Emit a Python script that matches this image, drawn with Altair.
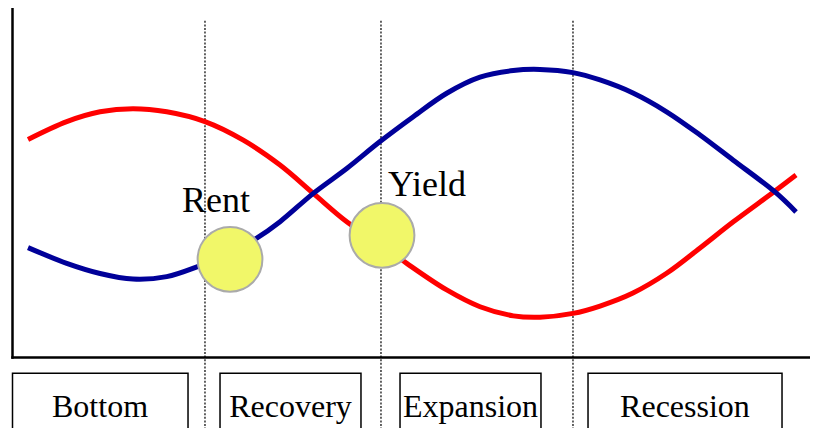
import altair as alt
import pandas as pd

# ---- data ----
# cycle phase (0-100) and relative level (0-100)
t_blue = [1.94, 6.78, 10.94, 15.06, 19.28, 23.06, 27.19, 30.53, 33.44, 37.6, 41.78, 45.94,
          50.1, 54.28, 58.44, 62.6, 65.94, 70.06, 73.44, 77.56, 81.81, 85.94, 90.06, 95.31, 97.94]
lvl_blue = [31.4, 26.9, 24.0, 22.4, 23.1, 25.9, 29.86, 34.1, 38.8, 46.9, 54.0, 61.7,
            68.8, 75.5, 80.1, 82.0, 82.3, 81.4, 79.29, 75.57, 70.14, 63.57, 56.43, 47.3, 41.6]

t_red = [1.94, 6.78, 10.94, 15.06, 19.28, 24.06, 28.85, 33.44, 37.6, 41.78, 45.94, 49.28,
         54.28, 58.44, 62.6, 65.94, 70.06, 73.44, 77.56, 81.81, 85.94, 90.06, 95.31, 97.94]
lvl_red = [62.3, 67.4, 70.2, 71.1, 70.2, 67.4, 62.1, 55.0, 46.9, 38.8, 32.43, 26.9,
           19.3, 14.5, 11.9, 11.5, 12.6, 14.71, 18.43, 24.14, 31.3, 38.71, 47.57, 52.14]

marker_names = ["Rent", "Yield"]
marker_t = [27.19, 46.19]
marker_lvl = [28.06, 34.9]
label_t = [21.19, 46.94]
label_lvl = [41.57, 46.14]

divider_t = [24.06, 46.06, 70.06]
divider_top = 96.2

stages = ["Bottom", "Recovery", "Expansion", "Recession"]
stage_t0 = [0.0, 25.94, 48.44, 71.94]
stage_t1 = [21.94, 43.56, 66.06, 96.19]
stage_center = [10.94, 34.75, 57.25, 84.06]
stage_top = -4.5
stage_label_lvl = -16.86

axis_x_end = 100.7

# ---- layout ----
W, H = 802, 420
xs = alt.Scale(domain=[0, 100], range=[4.5, 804.5])
ys = alt.Scale(domain=[0, 100], range=[349.5, -0.5])

blue_df = pd.DataFrame({"t": t_blue, "level": lvl_blue})
red_df = pd.DataFrame({"t": t_red, "level": lvl_red})
mk_df = pd.DataFrame({"name": marker_names, "t": marker_t, "level": marker_lvl,
                      "lt": label_t, "ll": label_lvl})
div_df = pd.DataFrame({"t": divider_t, "top": [divider_top] * len(divider_t)})
st_df = pd.DataFrame({"stage": stages, "t0": stage_t0, "t1": stage_t1, "tc": stage_center,
                      "top": [stage_top] * 4, "ll": [stage_label_lvl] * 4})
vaxis_df = pd.DataFrame({"t": [0], "lo": [0], "hi": [100]})
haxis_df = pd.DataFrame({"level": [0], "t0": [0], "t1": [axis_x_end]})

X = lambda f: alt.X(f, scale=xs, axis=None)
Y = lambda f: alt.Y(f, scale=ys, axis=None)

boxes = alt.Chart(st_df).mark_rect(fill="white", stroke="black", strokeWidth=1.5).encode(
    x=X("t0:Q"), x2="t1:Q", y=Y("top:Q"), y2=alt.value(H + 20))
box_text = alt.Chart(st_df).mark_text(font="Liberation Serif", fontSize=32, align="center",
                                      baseline="alphabetic", color="black").encode(
    x=X("tc:Q"), y=Y("ll:Q"), text="stage:N")

dividers = alt.Chart(div_df).mark_rule(color="#222222", strokeWidth=1.4, strokeDash=[2, 1.6]).encode(
    x=X("t:Q"), y=Y("top:Q"), y2=alt.value(H))

vaxis = alt.Chart(vaxis_df).mark_rule(color="black", strokeWidth=2.5, strokeCap="square").encode(
    x=X("t:Q"), y=Y("lo:Q"), y2="hi:Q")
haxis = alt.Chart(haxis_df).mark_rule(color="black", strokeWidth=2.5, strokeCap="square").encode(
    y=Y("level:Q"), x=X("t0:Q"), x2="t1:Q")

red_line = alt.Chart(red_df).mark_line(color="#ff0000", strokeWidth=5, interpolate="catmull-rom").encode(
    x=X("t:Q"), y=Y("level:Q"))
blue_line = alt.Chart(blue_df).mark_line(color="#000099", strokeWidth=5, interpolate="catmull-rom").encode(
    x=X("t:Q"), y=Y("level:Q"))

markers = alt.Chart(mk_df).mark_circle(size=4200, color="#f1f769", stroke="#aaaaaa", strokeWidth=2,
                                       opacity=1, fillOpacity=1).encode(
    x=X("t:Q"), y=Y("level:Q"))
labels = alt.Chart(mk_df).mark_text(font="Liberation Serif", fontSize=36, align="left",
                                    baseline="alphabetic", color="black").encode(
    x=X("lt:Q"), y=Y("ll:Q"), text="name:N")

chart = alt.layer(boxes, box_text, dividers, vaxis, haxis, red_line, blue_line, markers, labels).properties(
    width=W, height=H, padding=0, autosize=alt.AutoSizeParams(type="none"), background="white"
).configure_view(stroke=None)

chart.save("out.html", embed_options={"renderer": "svg", "actions": False})
